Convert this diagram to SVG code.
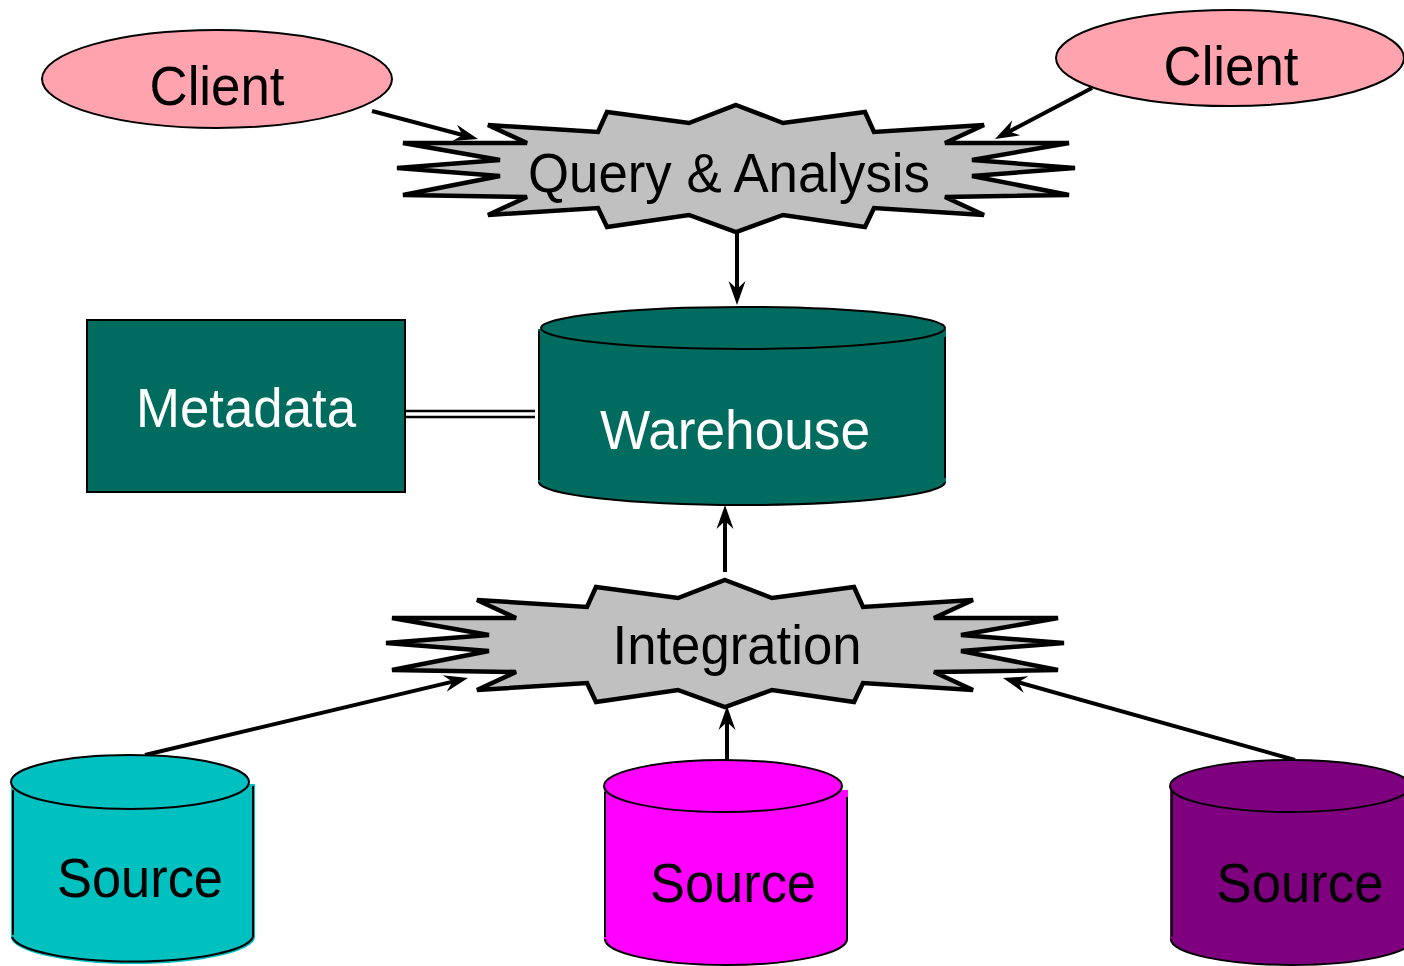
<svg xmlns="http://www.w3.org/2000/svg" width="1404" height="966" viewBox="0 0 1404 966">
<style>
.lbl{font-family:"Liberation Sans",Arial,sans-serif;font-size:56px;text-anchor:middle}
.dark{fill:#000}
.light{fill:#fff}
.star{fill:#C0C0C0;stroke:#000;stroke-width:4.5;stroke-linejoin:miter;stroke-miterlimit:4}
.edge{stroke:#000;stroke-width:2;fill:none}
.conn{stroke:#000;stroke-width:4;fill:none;marker-end:url(#arr)}
.dbl{stroke:#000;stroke-width:2.5;fill:none}
</style>
<defs>
<marker id="arr" viewBox="-26 -10 28 20" markerWidth="28" markerHeight="20" refX="-7" refY="0" orient="auto" markerUnits="userSpaceOnUse">
<path d="M0,0 L-24,-8.5 L-16,0 L-24,8.5 Z" fill="#000"/>
</marker>
<path id="burst" d="M0,-63 L47,-45 L129,-56 L138,-36 L248,-43 L209,-25 L333,-25 L236,-8 L339,0 L236,8 L333,27 L209,29 L248,47 L138,40 L129,59 L47,47 L0,64 L-47,47 L-129,59 L-138,40 L-248,47 L-209,29 L-333,27 L-236,8 L-339,0 L-236,-8 L-333,-25 L-209,-25 L-248,-43 L-138,-36 L-129,-56 L-47,-45 Z"/>
</defs>
<rect width="1404" height="966" fill="#fff"/>

<g id="connectors">
<line class="conn" x1="372" y1="111" x2="471.2" y2="137.2"/>
<line class="conn" x1="1092" y1="88" x2="1001.2" y2="135.7"/>
<line class="conn" x1="737" y1="232" x2="737" y2="298"/>
<line class="conn" x1="725" y1="572" x2="725" y2="512"/>
<line class="conn" x1="145" y1="755" x2="461.2" y2="679.6"/>
<line class="conn" x1="727" y1="772" x2="727" y2="713"/>
<line class="conn" x1="1295" y1="760" x2="1009.7" y2="679.9"/>
<line class="dbl" x1="405" y1="411" x2="535" y2="411"/>
<line class="dbl" x1="405" y1="417" x2="535" y2="417"/>
</g>

<g id="client-left">
<ellipse cx="217" cy="79" rx="175" ry="49" fill="#FFA3AF" stroke="#000" stroke-width="2"/>
<text class="lbl dark" x="217" y="105" textLength="135" lengthAdjust="spacingAndGlyphs">Client</text>
</g>

<g id="client-right">
<ellipse cx="1230" cy="58" rx="174" ry="48" fill="#FFA3AF" stroke="#000" stroke-width="2"/>
<text class="lbl dark" x="1231" y="85" textLength="135" lengthAdjust="spacingAndGlyphs">Client</text>
</g>

<g id="query-analysis">
<use href="#burst" class="star" transform="translate(736,168)"/>
<text class="lbl dark" x="729" y="192" textLength="402" lengthAdjust="spacingAndGlyphs">Query &amp; Analysis</text>
</g>

<g id="metadata">
<rect x="87" y="320" width="318" height="172" fill="#006C5F" stroke="#000" stroke-width="2"/>
<text class="lbl light" x="246" y="427" textLength="220" lengthAdjust="spacingAndGlyphs">Metadata</text>
</g>

<g id="warehouse">
<path d="M538,329 L538,482 A204,23 0 0 0 946,482 L946,329 Z" fill="#006C5F"/>
<path class="edge" d="M539,331 L539,480"/>
<path class="edge" d="M945,337 L945,478"/>
<path class="edge" d="M539,482 A203,23 0 0 0 945,482"/>
<ellipse cx="743" cy="328" rx="202" ry="21" fill="#006C5F" stroke="#000" stroke-width="2"/>
<text class="lbl light" x="735" y="449" textLength="270" lengthAdjust="spacingAndGlyphs">Warehouse</text>
</g>

<g id="integration">
<use href="#burst" class="star" transform="translate(725,643)"/>
<text class="lbl dark" x="737" y="664" textLength="249" lengthAdjust="spacingAndGlyphs">Integration</text>
</g>

<g id="source-left">
<path d="M11,782 L11,937 A122,27 0 0 0 255,937 L255,784 Z" fill="#00C0C0"/>
<path class="edge" d="M13,790 L13,935"/>
<path class="edge" d="M253,786 L253,937"/>
<path class="edge" d="M12,937 A121,27 0 0 0 253,937"/>
<ellipse cx="130" cy="782" rx="119" ry="27" fill="#00C0C0" stroke="#000" stroke-width="2"/>
<text class="lbl dark" x="140" y="897" textLength="166" lengthAdjust="spacingAndGlyphs">Source</text>
</g>

<g id="source-middle">
<path d="M604,786 L604,939 A122,26 0 0 0 848,939 L848,790 Z" fill="#FF00FF"/>
<path class="edge" d="M605,792 L605,937"/>
<path class="edge" d="M847,797 L847,939"/>
<path class="edge" d="M605,939 A121,26 0 0 0 847,939"/>
<ellipse cx="723" cy="786" rx="119" ry="26" fill="#FF00FF" stroke="#000" stroke-width="2"/>
<text class="lbl dark" x="733" y="902" textLength="166" lengthAdjust="spacingAndGlyphs">Source</text>
</g>

<g id="source-right">
<path d="M1170,786 L1170,939 A121,26 0 0 0 1412,939 L1412,786 Z" fill="#7F007F"/>
<path class="edge" d="M1172,790 L1172,937"/>
<path class="edge" d="M1171,939 A121,26 0 0 0 1413,939"/>
<ellipse cx="1290" cy="786" rx="120" ry="26" fill="#7F007F" stroke="#000" stroke-width="2"/>
<text class="lbl dark" x="1300" y="902" textLength="167" lengthAdjust="spacingAndGlyphs">Source</text>
</g>
</svg>
